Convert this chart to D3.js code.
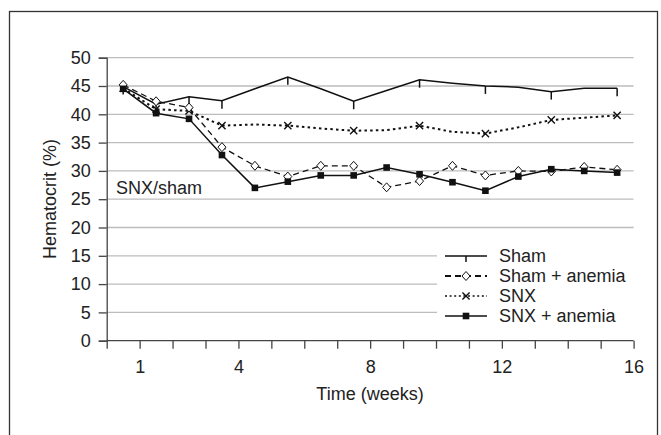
<!DOCTYPE html>
<html>
<head>
<meta charset="utf-8">
<script src="https://cdn.jsdelivr.net/npm/d3@7"></script>
<style>
  body { margin: 0; background: #fff; }
  svg text { font-family: "Liberation Sans", Arial, sans-serif; fill: #222; }
</style>
</head>
<body>
<svg id="chart" width="661" height="435"></svg>
<script>
// category centres (points sit between week ticks)
const timePoints = [0.5, 1.5, 2.5, 3.5, 4.5, 5.5, 6.5, 7.5, 8.5, 9.5, 10.5, 11.5, 12.5, 13.5, 14.5, 15.5];
const xTickLabels = [1, 4, 8, 12, 16];
const yTicks = [0, 5, 10, 15, 20, 25, 30, 35, 40, 45, 50];

const sham = [44.9, 41.8, 43.1, 42.4, 44.5, 46.6, 44.5, 42.3, 44.2, 46.1, 45.5, 45.0, 44.8, 44.0, 44.6, 44.6];
const shamAnemia = [45.2, 42.3, 41.2, 34.2, 30.9, 29.0, 30.9, 30.9, 27.1, 28.2, 30.9, 29.2, 30.0, 29.9, 30.7, 30.2];
const snx = [44.6, 40.9, 40.6, 38.0, 38.2, 38.0, 37.5, 37.1, 37.2, 38.0, 36.9, 36.6, 37.7, 39.0, 39.4, 39.8];
const snxAnemia = [44.5, 40.2, 39.2, 32.8, 27.0, 28.1, 29.2, 29.2, 30.6, 29.4, 28.0, 26.5, 29.0, 30.3, 30.0, 29.7];
// weeks that carry a marker on the Sham and SNX lines
const measuredIdx = [0, 1, 2, 3, 5, 7, 9, 11, 13, 15];
const shamErr = 1.4;

const seriesNames = ["Sham", "Sham + anemia", "SNX", "SNX + anemia"];

const svg = d3.select("#chart");
const plot = { left: 106.7, right: 633.6, top: 57.7, bottom: 340.7 };

const x = d3.scaleLinear().domain([0, 16]).range([plot.left, plot.right]);
const y = d3.scaleLinear().domain([0, 50]).range([plot.bottom, plot.top]);

// outer frame
svg.append("rect")
  .attr("x", 9.5).attr("y", 11.5)
  .attr("width", 648).attr("height", 440)
  .attr("fill", "none").attr("stroke", "#333").attr("stroke-width", 1.3);

// gridlines
svg.append("g")
  .selectAll("line")
  .data(yTicks.filter(d => d > 0))
  .join("line")
  .attr("x1", plot.left).attr("x2", plot.right)
  .attr("y1", d => y(d)).attr("y2", d => y(d))
  .attr("stroke", "#bdbdbd").attr("stroke-width", 1.3);

// legend background hides grid
svg.append("rect")
  .attr("x", 437).attr("y", 240).attr("width", 200).attr("height", 90)
  .attr("fill", "#fff");

// axes
const yAxis = svg.append("g")
  .attr("transform", `translate(${plot.left},0)`)
  .call(d3.axisLeft(y).tickValues(yTicks).tickSize(8).tickPadding(8));
const xAxis = svg.append("g")
  .attr("transform", `translate(0,${plot.bottom})`)
  .call(d3.axisBottom(x).ticks(16).tickSize(8).tickPadding(12)
    .tickFormat(d => xTickLabels.includes(d) ? d : ""));

[yAxis, xAxis].forEach(g => {
  g.select(".domain").attr("stroke", "#444").attr("stroke-width", 1.3);
  g.selectAll(".tick line").attr("stroke", "#444").attr("stroke-width", 1.3);
  g.selectAll(".tick text").attr("font-size", 18).attr("fill", "#222");
});
xAxis.select(".domain").attr("d", `M${plot.left},0H${plot.right}`);

// axis titles
svg.append("text")
  .attr("transform", `translate(56,199) rotate(-90)`)
  .attr("text-anchor", "middle").attr("font-size", 18)
  .text("Hematocrit (%)");
svg.append("text")
  .attr("x", 370).attr("y", 400)
  .attr("text-anchor", "middle").attr("font-size", 18)
  .text("Time (weeks)");
svg.append("text")
  .attr("x", 116).attr("y", 194).attr("font-size", 18)
  .text("SNX/sham");

const line = d3.line().x((d, i) => x(timePoints[i])).y(d => y(d));

function drawLine(values, dash, width) {
  svg.append("path")
    .datum(values)
    .attr("d", line)
    .attr("fill", "none")
    .attr("stroke", "#111")
    .attr("stroke-width", width)
    .attr("stroke-dasharray", dash);
}

drawLine(shamAnemia, "6,4", 1.3);
drawLine(snx, "2.5,3.2", 2);
drawLine(sham, null, 1.5);
drawLine(snxAnemia, null, 1.5);

// marker shapes
function tickMark(g, cx, cy, len) {
  g.append("line").attr("x1", cx).attr("x2", cx).attr("y1", cy).attr("y2", cy + len)
    .attr("stroke", "#111").attr("stroke-width", 1.5);
}
function diamond(g, cx, cy) {
  g.append("path")
    .attr("d", `M${cx},${cy - 4.5}L${cx + 4},${cy}L${cx},${cy + 4.5}L${cx - 4},${cy}Z`)
    .attr("fill", "#fff").attr("stroke", "#111").attr("stroke-width", 1);
}
function cross(g, cx, cy) {
  const r = 3.6;
  g.append("path")
    .attr("d", `M${cx - r},${cy - r}L${cx + r},${cy + r}M${cx - r},${cy + r}L${cx + r},${cy - r}`)
    .attr("stroke", "#111").attr("stroke-width", 1.4);
}
function square(g, cx, cy) {
  g.append("rect").attr("x", cx - 3.3).attr("y", cy - 3.3)
    .attr("width", 6.6).attr("height", 6.6).attr("fill", "#111");
}

const marks = svg.append("g");
measuredIdx.forEach(i => {
  const cx = x(timePoints[i]);
  tickMark(marks, cx, y(sham[i]), y(sham[i] - shamErr) - y(sham[i]));
});
measuredIdx.forEach(i => cross(marks, x(timePoints[i]), y(snx[i])));
shamAnemia.forEach((v, i) => diamond(marks, x(timePoints[i]), y(v)));
snxAnemia.forEach((v, i) => square(marks, x(timePoints[i]), y(v)));

// legend
const legend = svg.append("g");
const rowY = [256, 276, 296, 316];
const lx1 = 445, lx2 = 487, lmid = 466;
const legendDash = [null, "6,4", "2,2.6", null];
const legendWidth = [1.5, 1.8, 1.4, 1.5];
seriesNames.forEach((name, k) => {
  const yy = rowY[k];
  legend.append("line")
    .attr("x1", lx1).attr("x2", lx2).attr("y1", yy).attr("y2", yy)
    .attr("stroke", "#111").attr("stroke-width", legendWidth[k])
    .attr("stroke-dasharray", legendDash[k]);
  if (k === 0) tickMark(legend, lmid, yy, 6);
  if (k === 1) diamond(legend, lmid, yy);
  if (k === 2) cross(legend, lmid, yy);
  if (k === 3) square(legend, lmid, yy);
  legend.append("text")
    .attr("x", 499).attr("y", yy + 6).attr("font-size", 18)
    .text(name);
});
</script>
</body>
</html>
